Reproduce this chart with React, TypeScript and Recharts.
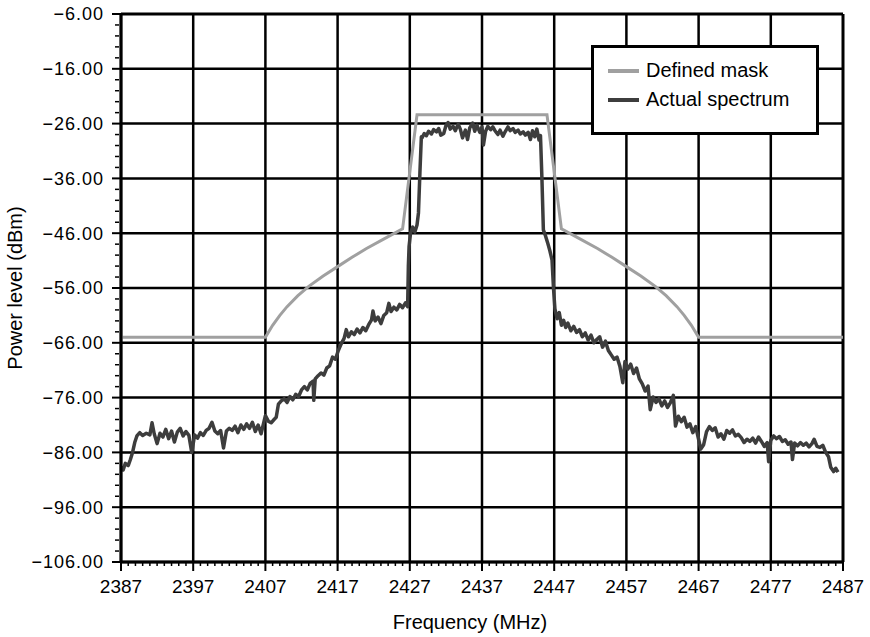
import { LineChart, Line, XAxis, YAxis, CartesianGrid, Legend } from 'recharts';

// spectrum mask (MHz, dBm)
const maskFreq = [2387, 2407, 2408, 2409, 2410, 2411.5, 2413, 2415, 2417, 2419, 2421, 2423.5, 2426, 2428,
  2446, 2448, 2450.5, 2453, 2455, 2457, 2459, 2461, 2462.5, 2464, 2465, 2466, 2467, 2487];
const maskLevel = [-65, -65, -62.8, -61, -59.4, -57.4, -55.7, -53.8, -52.1, -50.4, -48.8, -47, -45.2, -24.4,
  -24.4, -45.2, -47, -48.8, -50.4, -52.1, -53.8, -55.7, -57.4, -59.4, -61, -62.8, -65, -65];

const floorLeft: [number, number][] = [
  [2387.0, -88.6], [2387.3, -89.2], [2387.6, -88.0], [2388.0, -88.4], [2388.3, -87.3], [2388.6, -86.0],
  [2388.9, -84.2], [2389.2, -83.0], [2389.6, -82.4], [2390.0, -82.9], [2390.5, -82.5], [2391.0, -82.8],
  [2391.3, -80.6], [2391.6, -82.6], [2392.0, -84.4], [2392.4, -82.5], [2392.8, -83.2], [2393.2, -81.8],
  [2393.6, -83.5], [2394.0, -82.1], [2394.4, -84.1], [2394.8, -82.3], [2395.2, -81.6], [2395.6, -83.0],
  [2396.0, -82.2], [2396.4, -82.9], [2396.8, -86.0], [2397.2, -82.8], [2397.6, -83.4], [2398.0, -82.4],
  [2398.4, -82.9], [2398.8, -82.0], [2399.2, -81.6], [2399.6, -80.5], [2400.0, -82.1], [2400.4, -82.6],
  [2400.8, -82.0], [2401.2, -85.2], [2401.6, -82.1], [2402.0, -81.6], [2402.4, -82.0], [2402.8, -81.2],
  [2403.2, -82.4], [2403.6, -81.0], [2404.0, -81.8], [2404.4, -80.8], [2404.8, -81.6], [2405.2, -80.5],
  [2405.6, -82.2], [2406.0, -81.0], [2406.4, -82.6], [2406.8, -80.4], [2407.0, -79.3], [2407.4, -80.3],
  [2407.8, -80.6], [2408.2, -80.0], [2408.5, -79.6],
];

const slopeLeft: [number, number][] = [
  [2408.8, -77.2], [2409.2, -76.6], [2409.6, -76.2], [2410.0, -76.9], [2410.4, -75.8], [2410.8, -76.4],
  [2411.2, -75.4], [2411.6, -75.8], [2412.0, -74.6], [2412.4, -74.0], [2412.8, -74.6], [2413.2, -73.4],
  [2413.6, -73.0], [2413.7, -76.5], [2413.9, -72.6], [2414.3, -72.0], [2414.7, -71.5], [2415.1, -71.9],
  [2415.5, -70.6], [2415.9, -70.2], [2416.3, -68.6], [2416.7, -69.0], [2417.1, -67.4], [2417.5, -66.2],
  [2417.9, -65.2], [2418.2, -63.6], [2418.5, -64.9], [2418.9, -64.0], [2419.3, -64.5], [2419.7, -63.5],
  [2420.1, -64.2], [2420.5, -63.2], [2420.9, -63.8], [2421.3, -62.7], [2421.7, -61.8], [2421.9, -60.2],
  [2422.2, -62.0], [2422.6, -61.3], [2423.0, -62.5], [2423.4, -61.0], [2423.8, -60.5], [2424.1, -58.8],
  [2424.4, -60.3], [2424.8, -59.5], [2425.2, -60.0], [2425.6, -59.0], [2426.0, -59.6], [2426.4, -58.7],
  [2426.7, -59.4],
];

const passband: [number, number][] = [
  [2426.8, -52.0], [2426.9, -48.4], [2427.1, -46.0], [2427.4, -44.9], [2427.7, -45.8], [2428.0, -44.5],
  [2428.2, -42.3], [2428.4, -35.0], [2428.6, -28.4], [2428.7, -28.6], [2429.0, -27.8], [2429.3, -28.2],
  [2429.6, -27.4], [2430.0, -27.9], [2430.3, -27.1], [2430.7, -27.5], [2431.0, -26.9], [2431.3, -28.1],
  [2431.7, -27.8], [2432.0, -26.4], [2432.3, -25.8], [2432.6, -27.0], [2433.0, -26.5], [2433.3, -27.3],
  [2433.7, -26.1], [2434.0, -27.0], [2434.3, -28.6], [2434.7, -27.2], [2435.0, -28.9], [2435.3, -26.8],
  [2435.7, -25.9], [2436.0, -27.4], [2436.3, -26.3], [2436.7, -27.6], [2437.0, -26.6], [2437.2, -29.9],
  [2437.5, -27.4], [2437.8, -26.5], [2438.2, -27.1], [2438.5, -26.6], [2438.8, -27.3], [2439.2, -28.0],
  [2439.5, -27.2], [2439.9, -28.3], [2440.2, -27.5], [2440.6, -26.6], [2440.9, -27.3], [2441.3, -26.9],
  [2441.6, -27.6], [2442.0, -27.2], [2442.3, -27.9], [2442.7, -27.5], [2443.0, -28.1], [2443.4, -27.6],
  [2443.7, -28.9], [2444.0, -27.3], [2444.3, -28.4], [2444.6, -27.0], [2444.9, -29.0], [2445.1, -28.2],
  [2445.3, -36.0], [2445.5, -45.4], [2445.8, -46.5], [2446.1, -47.8], [2446.4, -49.2], [2446.7, -50.9],
  [2446.9, -56.0], [2447.1, -59.8],
];

const slopeRight: [number, number][] = [
  [2447.4, -61.6], [2447.7, -60.5], [2448.0, -62.8], [2448.3, -61.9], [2448.6, -63.2], [2448.9, -62.4],
  [2449.3, -63.8], [2449.7, -63.0], [2450.1, -64.1], [2450.5, -63.6], [2450.9, -64.9], [2451.3, -64.2],
  [2451.7, -65.5], [2452.1, -64.6], [2452.5, -66.0], [2452.9, -65.4], [2453.3, -64.9], [2453.7, -66.8],
  [2454.1, -65.7], [2454.5, -67.4], [2454.9, -68.2], [2455.3, -69.0], [2455.7, -68.6], [2456.1, -70.3],
  [2456.5, -73.3], [2456.8, -69.4], [2457.2, -70.8], [2457.6, -69.9], [2458.0, -71.6], [2458.4, -70.6],
  [2458.8, -72.6], [2459.2, -73.5], [2459.6, -74.8], [2460.0, -73.9], [2460.3, -78.2], [2460.7, -75.9],
  [2461.1, -76.9], [2461.5, -76.2], [2461.9, -77.5], [2462.3, -76.6], [2462.7, -77.8], [2463.1, -76.9],
  [2463.5, -75.6], [2463.8, -81.2], [2464.2, -79.4], [2464.6, -80.4], [2465.0, -79.6], [2465.4, -81.4],
  [2465.8, -80.8], [2466.2, -82.4], [2466.6, -81.3], [2467.0, -83.6], [2467.3, -85.4], [2467.7, -84.6],
];

const floorRight: [number, number][] = [
  [2468.1, -82.2], [2468.5, -81.3], [2468.9, -82.0], [2469.3, -81.5], [2469.7, -83.2], [2470.1, -82.6],
  [2470.5, -83.6], [2470.9, -82.0], [2471.3, -82.5], [2471.7, -81.9], [2472.1, -83.0], [2472.5, -82.7],
  [2472.9, -83.3], [2473.3, -84.2], [2473.7, -83.6], [2474.1, -84.0], [2474.5, -83.4], [2474.9, -84.3],
  [2475.3, -83.2], [2475.7, -84.0], [2476.1, -84.9], [2476.5, -84.2], [2476.7, -87.7], [2477.0, -83.8],
  [2477.4, -83.0], [2477.8, -83.5], [2478.2, -83.1], [2478.6, -84.0], [2479.0, -83.7], [2479.4, -84.5],
  [2479.8, -84.1], [2480.0, -87.3], [2480.3, -84.3], [2480.7, -84.8], [2481.1, -84.2], [2481.5, -84.7],
  [2481.9, -84.3], [2482.3, -85.0], [2482.7, -84.4], [2483.0, -83.6], [2483.4, -84.9], [2483.8, -85.1],
  [2484.2, -84.7], [2484.6, -86.0], [2485.0, -86.8], [2485.3, -88.7], [2485.7, -89.5], [2486.0, -88.9],
  [2486.3, -89.6],
];

const seriesNames = ['Defined mask', 'Actual spectrum'];
const xMajor = [2387, 2397, 2407, 2417, 2427, 2437, 2447, 2457, 2467, 2477, 2487];
const yMajor = [-106, -96, -86, -76, -66, -56, -46, -36, -26, -16, -6];

// minor ticks: 1 MHz and 2 dB
const xTicks: number[] = [];
for (let f = xMajor[0]; f <= xMajor[xMajor.length - 1]; f++) xTicks.push(f);
const yTicks: number[] = [];
for (let v = yMajor[0]; v <= yMajor[yMajor.length - 1]; v += 2) yTicks.push(v);

const maskData = maskFreq.map((freq, i) => ({ freq, level: maskLevel[i] }));
const spectrumData = [...floorLeft, ...slopeLeft, ...passband, ...slopeRight, ...floorRight].map(
  ([freq, level]) => ({ freq, level })
);

const FONT = '"Liberation Sans", Arial, Helvetica, sans-serif';
const INK = '#000';
const TICK_SIZE = 9;
const TICK_MARGIN = 8;

function FreqTick(props: any) {
  const { x, y, payload } = props;
  const v = payload.value;
  const major = (v - xMajor[0]) % 10 === 0;
  const axisY = y - TICK_SIZE - TICK_MARGIN;
  return (
    <g>
      <line x1={x} x2={x} y1={axisY} y2={axisY + (major ? 9 : 4)} stroke={INK} strokeWidth={major ? 2 : 1.5} />
      {major && (
        <text x={x} y={y} dy="0.72em" textAnchor="middle" fontSize={19} fill={INK} fontFamily={FONT}>
          {v}
        </text>
      )}
    </g>
  );
}

function LevelTick(props: any) {
  const { x, y, payload } = props;
  const v = payload.value;
  const major = (v - yMajor[0]) % 10 === 0;
  const axisX = x + TICK_SIZE + TICK_MARGIN;
  return (
    <g>
      <line x1={axisX - (major ? 9 : 6)} x2={major ? axisX : axisX - 2} y1={y} y2={y} stroke={INK} strokeWidth={major ? 2 : 1.5} />
      {major && (
        <text x={x} y={y} dy="0.36em" textAnchor="end" fontSize={18} letterSpacing={1} fill={INK} fontFamily={FONT}>
          {`\u2212${Math.abs(v).toFixed(2)}`}
        </text>
      )}
    </g>
  );
}

// grid line: frame edges (top / right) a bit heavier than the inner lines
function GridLine(props: any) {
  const { x1, y1, x2, y2, index } = props;
  const edge = index === xMajor.length - 1;
  return <line x1={x1} y1={y1} x2={x2} y2={y2} stroke="#000" strokeWidth={edge ? 3 : 2.5} fill="none" />;
}

function LegendBox(props: any) {
  const items = [...(props.payload || [])].sort(
    (a: any, b: any) => seriesNames.indexOf(a.value) - seriesNames.indexOf(b.value)
  );
  return (
    <div
      style={{
        width: 222,
        height: 76,
        border: `3px solid ${INK}`,
        background: '#fff',
        paddingTop: 8,
        boxSizing: 'content-box',
        fontFamily: FONT,
      }}
    >
      {items.map((it: any) => (
        <div key={it.value} style={{ display: 'flex', alignItems: 'center', height: 29, paddingLeft: 14 }}>
          <span style={{ display: 'inline-block', width: 31, height: 4, background: it.color, marginRight: 7 }} />
          <span style={{ fontSize: 20, color: INK }}>{it.value}</span>
        </div>
      ))}
    </div>
  );
}

export default function App() {
  return (
    <div style={{ position: 'absolute', left: 0, top: 0, background: '#fff' }}>
      <LineChart width={870} height={637} margin={{ top: 14, right: 27, bottom: 0, left: 0 }}>
        <CartesianGrid
          horizontalValues={yMajor}
          verticalValues={xMajor}
          horizontal={(p: any) => <GridLine key={p.key} {...p} />}
          vertical={(p: any) => <GridLine key={p.key} {...p} />}
        />
        <XAxis
          dataKey="freq"
          type="number"
          domain={[xMajor[0], xMajor[xMajor.length - 1]]}
          ticks={xTicks}
          interval={0}
          tick={<FreqTick />}
          tickLine={false}
          tickSize={TICK_SIZE}
          tickMargin={TICK_MARGIN}
          axisLine={{ stroke: INK, strokeWidth: 3 }}
          height={75}
          allowDataOverflow
          label={{
            value: 'Frequency (MHz)',
            position: 'insideBottom',
            offset: 8,
            dx: -12,
            fontSize: 20,
            fill: INK,
            fontFamily: FONT,
          }}
        />
        <YAxis
          type="number"
          domain={[yMajor[0], yMajor[yMajor.length - 1]]}
          ticks={yTicks}
          interval={0}
          tick={<LevelTick />}
          tickLine={false}
          tickSize={TICK_SIZE}
          tickMargin={TICK_MARGIN}
          axisLine={{ stroke: INK, strokeWidth: 3 }}
          width={121}
          allowDataOverflow
          label={{
            value: 'Power level (dBm)',
            angle: -90,
            position: 'insideLeft',
            offset: 15,
            fontSize: 20,
            fill: INK,
            fontFamily: FONT,
            style: { textAnchor: 'middle' },
          }}
        />
        <Legend
          layout="vertical"
          align="center"
          verticalAlign="middle"
          content={<LegendBox />}
          wrapperStyle={{ left: 591, top: 45, width: 'auto' }}
        />
        <Line
          data={maskData}
          dataKey="level"
          name={seriesNames[0]}
          type="linear"
          stroke="#a0a0a0"
          strokeWidth={3}
          dot={false}
          isAnimationActive={false}
        />
        <Line
          data={spectrumData}
          dataKey="level"
          name={seriesNames[1]}
          type="linear"
          stroke="#3d3d3d"
          strokeWidth={3.5}
          strokeLinejoin="round"
          dot={false}
          isAnimationActive={false}
        />
      </LineChart>
    </div>
  );
}
